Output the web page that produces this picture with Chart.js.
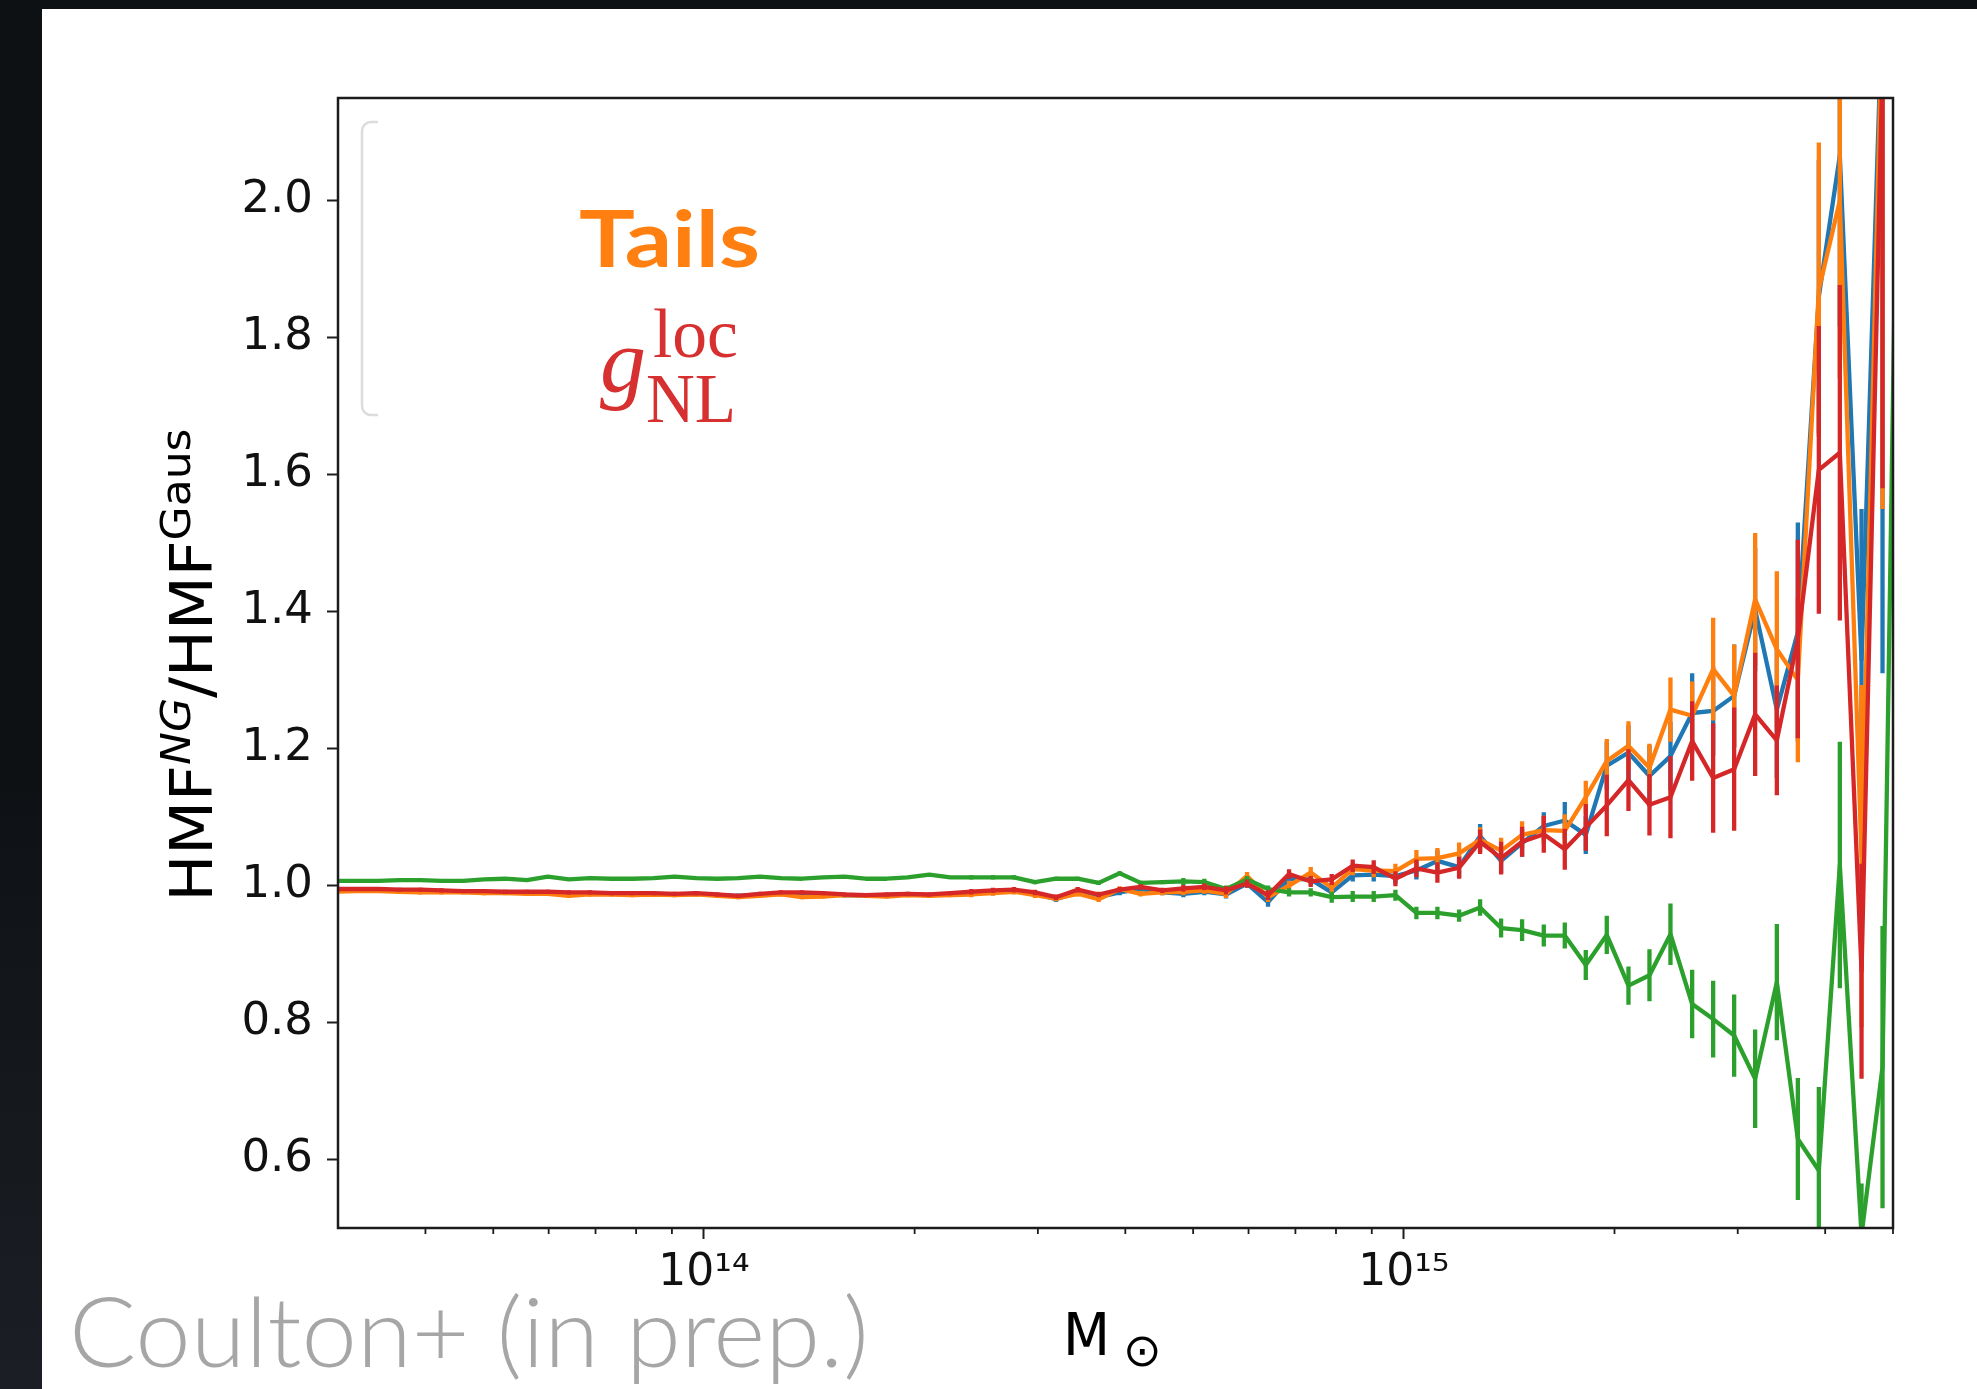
<!DOCTYPE html>
<html>
<head>
<meta charset="utf-8">
<title>HMF ratio</title>
<script src="https://cdn.jsdelivr.net/npm/chart.js@4.4.1/dist/chart.umd.min.js"></script>
<style>
  html, body { margin: 0; padding: 0; }
  body {
    width: 1977px; height: 1389px; overflow: hidden; position: relative;
    background: linear-gradient(180deg, #0e1114 0%, #0e1114 55%, #1b1f25 100%);
  }
  #panel { position: absolute; left: 42px; top: 9px; right: 0; bottom: 0; background: #fff; }
  #hmf { position: absolute; left: 0; top: 0; }
</style>
</head>
<body>
<div id="panel"></div>
<canvas id="hmf" width="1977" height="1389"></canvas>
<script>
// ── data ────────────────────────────────────────────────────────────────────

// log10 of the bin masses
const LOG_MASS = [
  13.474, 13.504, 13.535, 13.565, 13.595, 13.625, 13.656, 13.686, 13.716, 13.747,
  13.777, 13.807, 13.837, 13.868, 13.898, 13.928, 13.958, 13.989, 14.019, 14.049,
  14.080, 14.110, 14.140, 14.170, 14.201, 14.231, 14.261, 14.291, 14.322, 14.352,
  14.382, 14.413, 14.443, 14.473, 14.503, 14.534, 14.564, 14.594, 14.624, 14.655,
  14.685, 14.715, 14.746, 14.776, 14.806, 14.836, 14.867, 14.897, 14.927, 14.957,
  14.988, 15.018, 15.048, 15.079, 15.109, 15.139, 15.169, 15.200, 15.230, 15.260,
  15.290, 15.321, 15.351, 15.381, 15.412, 15.442, 15.472, 15.502, 15.533, 15.563,
  15.593, 15.623, 15.654, 15.684, 15.714,
];

const BLUE = [
  0.993, 0.993, 0.993, 0.992, 0.992, 0.991, 0.991, 0.990, 0.990, 0.990,
  0.989, 0.989, 0.989, 0.988, 0.988, 0.988, 0.987, 0.988, 0.986, 0.985,
  0.987, 0.988, 0.988, 0.987, 0.986, 0.985, 0.986, 0.987, 0.986, 0.987,
  0.989, 0.990, 0.992, 0.988, 0.980, 0.990, 0.983, 0.990, 0.995, 0.990,
  0.988, 0.991, 0.987, 1.003, 0.976, 1.010, 1.009, 0.990, 1.015, 1.016,
  1.014, 1.022, 1.036, 1.027, 1.072, 1.036, 1.062, 1.087, 1.095, 1.074,
  1.175, 1.194, 1.160, 1.189, 1.252, 1.255, 1.277, 1.403, 1.257, 1.370,
  1.860, 2.066, 1.330, 2.300, null,
];
const BLUE_ERR = [
  0.003, 0.003, 0.003, 0.003, 0.003, 0.003, 0.003, 0.003, 0.003, 0.003,
  0.003, 0.003, 0.003, 0.003, 0.003, 0.003, 0.003, 0.003, 0.003, 0.003,
  0.003, 0.003, 0.003, 0.003, 0.003, 0.003, 0.003, 0.003, 0.003, 0.003,
  0.004, 0.004, 0.004, 0.004, 0.004, 0.004, 0.004, 0.004, 0.004, 0.004,
  0.005, 0.005, 0.006, 0.006, 0.007, 0.007, 0.008, 0.008, 0.009, 0.010,
  0.011, 0.013, 0.016, 0.016, 0.018, 0.018, 0.020, 0.020, 0.027, 0.028,
  0.035, 0.040, 0.045, 0.050, 0.058, 0.065, 0.075, 0.090, 0.100, 0.160,
  0.200, 0.250, 0.220, 0.990, null,
];

const ORANGE = [
  0.991, 0.992, 0.992, 0.991, 0.990, 0.990, 0.990, 0.989, 0.989, 0.988,
  0.988, 0.985, 0.987, 0.987, 0.986, 0.987, 0.986, 0.987, 0.985, 0.983,
  0.985, 0.987, 0.983, 0.984, 0.986, 0.985, 0.984, 0.986, 0.985, 0.986,
  0.987, 0.989, 0.991, 0.986, 0.981, 0.988, 0.980, 0.995, 0.988, 0.990,
  0.991, 0.993, 0.988, 1.014, 0.983, 1.000, 1.019, 0.997, 1.024, 1.022,
  1.021, 1.039, 1.040, 1.047, 1.067, 1.051, 1.074, 1.081, 1.080, 1.129,
  1.182, 1.204, 1.172, 1.257, 1.248, 1.316, 1.277, 1.418, 1.345, 1.300,
  1.870, 2.000, 1.043, 2.300, null,
];
const ORANGE_ERR = [
  0.003, 0.003, 0.003, 0.003, 0.003, 0.003, 0.003, 0.003, 0.003, 0.003,
  0.003, 0.003, 0.003, 0.003, 0.003, 0.003, 0.003, 0.003, 0.003, 0.003,
  0.003, 0.003, 0.003, 0.003, 0.003, 0.003, 0.003, 0.003, 0.003, 0.003,
  0.004, 0.004, 0.004, 0.004, 0.004, 0.004, 0.004, 0.004, 0.004, 0.004,
  0.005, 0.005, 0.006, 0.006, 0.007, 0.007, 0.008, 0.008, 0.009, 0.010,
  0.011, 0.013, 0.015, 0.016, 0.018, 0.019, 0.020, 0.021, 0.024, 0.024,
  0.032, 0.036, 0.035, 0.047, 0.050, 0.075, 0.075, 0.097, 0.114, 0.120,
  0.215, 0.260, 0.250, 0.750, null,
];

const GREEN = [
  1.007, 1.007, 1.007, 1.008, 1.008, 1.007, 1.007, 1.009, 1.010, 1.008,
  1.013, 1.009, 1.011, 1.010, 1.010, 1.011, 1.013, 1.011, 1.010, 1.011,
  1.013, 1.011, 1.010, 1.012, 1.013, 1.010, 1.010, 1.012, 1.016, 1.012,
  1.012, 1.012, 1.012, 1.005, 1.010, 1.010, 1.004, 1.018, 1.004, 1.005,
  1.006, 1.005, 0.995, 1.009, 0.995, 0.990, 0.990, 0.983, 0.984, 0.984,
  0.986, 0.960, 0.960, 0.956, 0.968, 0.938, 0.935, 0.927, 0.927, 0.884,
  0.928, 0.854, 0.869, 0.929, 0.827, 0.805, 0.781, 0.718, 0.859, 0.630,
  0.584, 1.030, 0.490, 0.735, 2.700,
];
const GREEN_ERR = [
  0.002, 0.002, 0.002, 0.002, 0.002, 0.002, 0.002, 0.002, 0.002, 0.002,
  0.002, 0.002, 0.002, 0.002, 0.002, 0.002, 0.002, 0.002, 0.002, 0.002,
  0.002, 0.002, 0.002, 0.002, 0.002, 0.002, 0.002, 0.002, 0.002, 0.002,
  0.003, 0.003, 0.003, 0.003, 0.003, 0.003, 0.003, 0.003, 0.003, 0.003,
  0.005, 0.005, 0.005, 0.005, 0.005, 0.006, 0.006, 0.008, 0.008, 0.008,
  0.008, 0.009, 0.009, 0.009, 0.012, 0.014, 0.016, 0.016, 0.019, 0.022,
  0.028, 0.028, 0.038, 0.045, 0.050, 0.056, 0.060, 0.072, 0.085, 0.089,
  0.122, 0.180, 0.075, 0.206, 0.500,
];

const RED = [
  0.995, 0.995, 0.995, 0.994, 0.994, 0.993, 0.992, 0.992, 0.991, 0.991,
  0.991, 0.990, 0.990, 0.989, 0.989, 0.989, 0.988, 0.989, 0.987, 0.985,
  0.988, 0.990, 0.990, 0.989, 0.987, 0.986, 0.987, 0.988, 0.987, 0.989,
  0.991, 0.993, 0.994, 0.990, 0.983, 0.994, 0.987, 0.994, 0.998, 0.993,
  0.996, 0.998, 0.993, 1.003, 0.986, 1.017, 1.006, 1.009, 1.029, 1.027,
  1.010, 1.025, 1.019, 1.026, 1.064, 1.040, 1.064, 1.075, 1.053, 1.085,
  1.117, 1.154, 1.118, 1.129, 1.211, 1.157, 1.170, 1.250, 1.212, 1.360,
  1.607, 1.632, 0.875, 2.200, null,
];
const RED_ERR = [
  0.003, 0.003, 0.003, 0.003, 0.003, 0.003, 0.003, 0.003, 0.003, 0.003,
  0.003, 0.003, 0.003, 0.003, 0.003, 0.003, 0.003, 0.003, 0.003, 0.003,
  0.003, 0.003, 0.003, 0.003, 0.003, 0.003, 0.003, 0.003, 0.003, 0.003,
  0.004, 0.004, 0.004, 0.004, 0.004, 0.004, 0.004, 0.004, 0.004, 0.004,
  0.005, 0.005, 0.006, 0.006, 0.007, 0.007, 0.008, 0.008, 0.009, 0.010,
  0.011, 0.013, 0.015, 0.016, 0.018, 0.024, 0.022, 0.027, 0.030, 0.034,
  0.045, 0.045, 0.045, 0.060, 0.058, 0.080, 0.090, 0.090, 0.080, 0.145,
  0.210, 0.245, 0.157, 0.620, null,
];

const X_MIN = 3e13;
const X_MAX = 5e15;
const X_TICKS = [
  4e13, 5e13, 6e13, 7e13, 8e13, 9e13, 1e14,
  2e14, 3e14, 4e14, 5e14, 6e14, 7e14, 8e14, 9e14, 1e15,
  2e15, 3e15, 4e15, 5e15,
];
const X_LABELS = { 14: "10¹⁴", 15: "10¹⁵" };
const Y_MIN = 0.5;
const Y_MAX = 2.15;
const Y_TICKS = [0.6, 0.8, 1.0, 1.2, 1.4, 1.6, 1.8, 2.0];

const C_BLUE = "#1f77b4";
const C_ORANGE = "#ff7f0e";
const C_GREEN = "#2ca02c";
const C_RED = "#d62728";
const INK = "#1c1c1c";

// ── helpers ─────────────────────────────────────────────────────────────────

function linePoints(vals) {
  return LOG_MASS.map((lm, i) => ({ x: Math.pow(10, lm), y: vals[i] }));
}

// each error bar becomes a 2-point segment, separated by gaps
function barPoints(vals, errs) {
  const out = [];
  LOG_MASS.forEach((lm, i) => {
    if (vals[i] == null || errs[i] == null) return;
    const x = Math.pow(10, lm);
    out.push({ x, y: vals[i] - errs[i] }, { x, y: vals[i] + errs[i] }, { x, y: null });
  });
  return out;
}

function series(vals, errs, color, order) {
  const common = {
    borderColor: color,
    backgroundColor: color,
    borderWidth: 4.3,
    pointRadius: 0,
    pointHoverRadius: 0,
    tension: 0,
    fill: false,
    clip: 0,
    spanGaps: false,
  };
  return [
    { ...common, data: linePoints(vals), order, borderJoinStyle: "round" },
    { ...common, data: barPoints(vals, errs), order: order + 0.5, borderCapStyle: "butt" },
  ];
}

function isDecade(v) {
  const l = Math.log10(v);
  return Math.abs(l - Math.round(l)) < 1e-9;
}

function fitText(ctx, text, x, y, font, color, width) {
  ctx.save();
  ctx.font = font;
  const w = ctx.measureText(text).width;
  ctx.translate(x, y);
  if (width) ctx.scale(width / w, 1);
  ctx.fillStyle = color;
  ctx.textBaseline = "alphabetic";
  ctx.textAlign = "left";
  ctx.fillText(text, 0, 0);
  ctx.restore();
}

// ── decorations: spines, minor ticks, axis titles, annotations ─────────────

const decor = {
  id: "decor",
  afterDatasetsDraw(chart) {
    const { ctx, chartArea: a, scales } = chart;
    ctx.save();
    ctx.strokeStyle = INK;
    ctx.lineWidth = 1.8;
    scales.x.ticks.forEach(t => {
      if (t.major) return;
      const px = scales.x.getPixelForValue(t.value);
      ctx.beginPath();
      ctx.moveTo(px, a.bottom);
      ctx.lineTo(px, a.bottom + 6);
      ctx.stroke();
    });
    ctx.lineWidth = 2.5;
    ctx.strokeRect(a.left, a.top, a.right - a.left, a.bottom - a.top);
    ctx.restore();
  },
  afterDraw(chart) {
    const ctx = chart.ctx;

    // what is left of the legend frame
    ctx.save();
    ctx.strokeStyle = "#dcdcdc";
    ctx.lineWidth = 2.5;
    ctx.beginPath();
    ctx.moveTo(378, 122);
    ctx.lineTo(371, 122);
    ctx.arcTo(362, 122, 362, 131, 9);
    ctx.lineTo(362, 406);
    ctx.arcTo(362, 415, 371, 415, 9);
    ctx.lineTo(378, 415);
    ctx.stroke();
    ctx.restore();

    // y-axis title: HMF^{NG}/HMF^{Gaus}
    const parts = [
      { t: "HMF", font: "58px 'DejaVu Sans'", dy: 0 },
      { t: "NG", font: "italic 41px 'DejaVu Sans'", dy: -22 },
      { t: "/HMF", font: "58px 'DejaVu Sans'", dy: 0 },
      { t: "Gaus", font: "41px 'DejaVu Sans'", dy: -22 },
    ];
    ctx.save();
    let total = 0;
    parts.forEach(p => { ctx.font = p.font; p.w = ctx.measureText(p.t).width; total += p.w; });
    ctx.translate(212, 665);
    ctx.rotate(-Math.PI / 2);
    ctx.scale(473 / total, 1);
    ctx.fillStyle = "#000";
    ctx.textBaseline = "alphabetic";
    let cx = -total / 2;
    parts.forEach(p => { ctx.font = p.font; ctx.fillText(p.t, cx, p.dy); cx += p.w; });
    ctx.restore();

    // x-axis title: M_sun
    fitText(ctx, "M", 1063, 1355, "58px 'DejaVu Sans'", "#000", 47);
    fitText(ctx, "⊙", 1123, 1366, "46px 'DejaVu Sans'", "#000");

    // annotations
    fitText(ctx, "Tails", 579, 267, "bold 78px Lato, 'Open Sans', sans-serif", "#ff8010", 181);
    fitText(ctx, "g", 600, 392, "italic 92px 'Liberation Serif', serif", "#d63031");
    fitText(ctx, "loc", 653, 357, "70px 'Liberation Serif', serif", "#d63031", 85);
    fitText(ctx, "NL", 646, 422, "70px 'Liberation Serif', serif", "#d63031", 90);

    fitText(ctx, "Coulton+ (in prep.)", 69, 1367, "300 96px Lato, Roboto, sans-serif", "#a6a6a6", 800);
  },
};

// ── chart ───────────────────────────────────────────────────────────────────

new Chart(document.getElementById("hmf"), {
  type: "line",
  data: {
    datasets: [
      ...series(RED, RED_ERR, C_RED, 1),
      ...series(GREEN, GREEN_ERR, C_GREEN, 3),
      ...series(ORANGE, ORANGE_ERR, C_ORANGE, 5),
      ...series(BLUE, BLUE_ERR, C_BLUE, 7),
    ],
  },
  options: {
    responsive: false,
    animation: false,
    devicePixelRatio: 1,
    layout: { padding: { top: 98, right: 84, left: 0, bottom: 0 } },
    plugins: { legend: { display: false }, tooltip: { enabled: false } },
    scales: {
      x: {
        type: "logarithmic",
        min: X_MIN,
        max: X_MAX,
        afterBuildTicks: s => { s.ticks = X_TICKS.map(v => ({ value: v, major: isDecade(v) })); },
        afterFit: s => { s.height = 161; },
        border: { display: false },
        grid: {
          drawOnChartArea: false,
          drawTicks: true,
          tickLength: 11,
          tickWidth: 2,
          tickColor: c => (c.tick && c.tick.major ? INK : "rgba(0,0,0,0)"),
        },
        ticks: {
          autoSkip: false,
          maxRotation: 0,
          padding: 8,
          color: "#111",
          font: { family: "'DejaVu Sans'", size: 44 },
          major: { enabled: true },
          callback: v => (isDecade(v) ? (X_LABELS[Math.round(Math.log10(v))] || "") : ""),
        },
      },
      y: {
        type: "linear",
        min: Y_MIN,
        max: Y_MAX,
        afterBuildTicks: s => { s.ticks = Y_TICKS.map(v => ({ value: v })); },
        afterFit: s => { s.width = 338; },
        border: { display: false },
        grid: {
          drawOnChartArea: false,
          drawTicks: true,
          tickLength: 11,
          tickWidth: 2,
          tickColor: INK,
        },
        ticks: {
          padding: 14,
          color: "#111",
          font: { family: "'DejaVu Sans'", size: 45 },
          callback: v => Number(v).toFixed(1),
        },
      },
    },
  },
  plugins: [decor],
});
</script>
</body>
</html>
